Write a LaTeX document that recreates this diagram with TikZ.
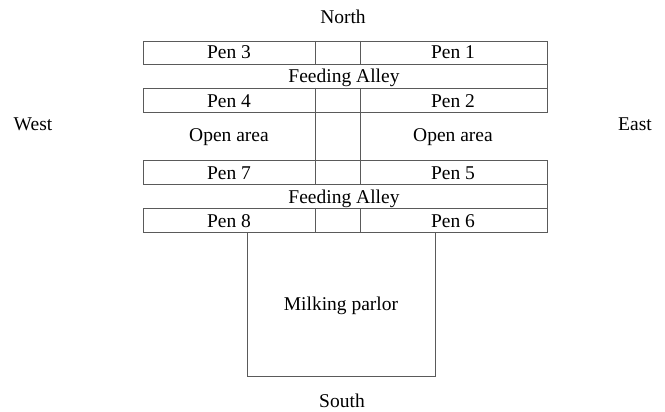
\documentclass[tikz,border=0pt]{standalone}
\usepackage{fontspec}
\setmainfont{Liberation Serif}
\definecolor{wallc}{HTML}{5A5A5A}
\tikzset{
  wall/.style={draw=wallc, line width=0.9pt},
  lbl/.style={anchor=base, inner sep=0pt, font=\fontsize{19.5}{22}\selectfont}
}
\begin{document}
\begin{tikzpicture}[x=1pt,y=-1pt]
\useasboundingbox[fill=white] (0,0) rectangle (665,412);
% pens and alleys
\draw[wall] (143,41) rectangle (547,64);
\draw[wall] (547,64) -- (547,88);
\draw[wall] (143,88) rectangle (547,112);
\draw[wall] (143,160) rectangle (547,184);
\draw[wall] (547,184) -- (547,208);
\draw[wall] (143,208) rectangle (547,232);
% dividers
\foreach \x in {315.5,360.5} {
  \draw[wall] (\x,41) -- (\x,64);
  \draw[wall] (\x,88) -- (\x,184);
  \draw[wall] (\x,208) -- (\x,232);
}
% milking parlor
\draw[wall] (247.5,232) -- (247.5,376.5) -- (435.5,376.5) -- (435.5,232);
% labels
\node[lbl] (north) at (343,24) {North};
\node[lbl] (south) at (342,407) {South};
\node[lbl] (west) at (33,131) {West};
\node[lbl] (east) at (635,131) {East};
\node[lbl] (p3) at (229,59) {Pen 3};
\node[lbl] (p1) at (453,59) {Pen 1};
\node[lbl] (fa1) at (344,83) {Feeding Alley};
\node[lbl] (p4) at (229,107) {Pen 4};
\node[lbl] (p2) at (453,107) {Pen 2};
\node[lbl] (oa1) at (229,141.5) {Open area};
\node[lbl] (oa2) at (453,141.5) {Open area};
\node[lbl] (p7) at (229,179) {Pen 7};
\node[lbl] (p5) at (453,179) {Pen 5};
\node[lbl] (fa2) at (344,203) {Feeding Alley};
\node[lbl] (p8) at (229,227) {Pen 8};
\node[lbl] (p6) at (453,227) {Pen 6};
\node[lbl] (mp) at (341,310.5) {Milking parlor};
\end{tikzpicture}
\end{document}
